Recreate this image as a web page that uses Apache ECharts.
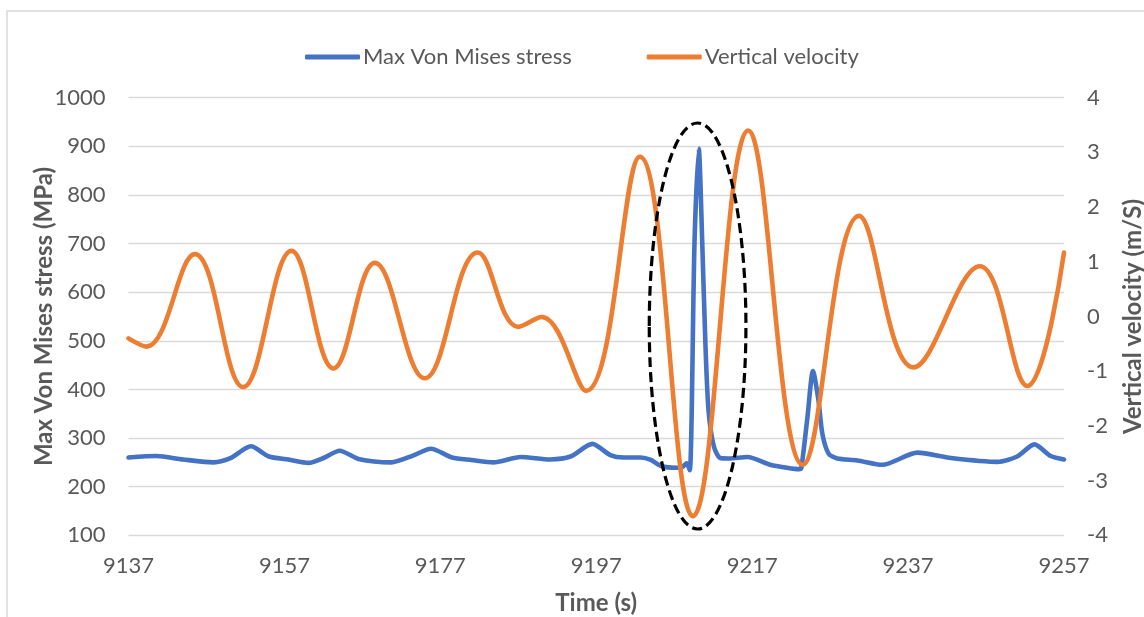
<!DOCTYPE html>
<html>
<head>
<meta charset="utf-8">
<script src="https://cdn.jsdelivr.net/npm/echarts@6/dist/echarts.min.js"></script>
<style>
  html, body { margin: 0; padding: 0; background: #ffffff; }
  #chart { width: 1144px; height: 617px; }
</style>
</head>
<body>
<div id="chart"></div>
<script>
// Time window (s)
const T_START = 9137;
const T_END = 9257;
const xTickLabels = [9137, 9157, 9177, 9197, 9217, 9237, 9257];

// Max Von Mises stress (MPa) against time (s)
const stressTime = [
  9137.0, 9140.6, 9144.0, 9147.9, 9150.0, 9152.7, 9155.0, 9157.5, 9160.1, 9162.0,
  9164.1, 9166.5, 9170.7, 9173.5, 9175.8, 9178.5, 9181.0, 9183.8, 9187.3, 9191.1,
  9193.7, 9196.5, 9198.8, 9200.5, 9202.7, 9204.0, 9205.4, 9207.3, 9208.0, 9208.6,
  9209.0, 9209.6, 9210.15, 9210.6, 9211.0, 9211.4, 9212.1, 9212.9, 9214.0, 9216.4,
  9219.3, 9221.1, 9223.0, 9223.3, 9224.1, 9224.8, 9225.5, 9226.0, 9226.8, 9227.9,
  9230.5, 9233.7, 9238.2, 9242.5, 9248.5, 9251.0, 9253.2, 9255.3, 9257.0
];
const stressMPa = [
  260, 263, 256, 250, 258, 283, 262, 256, 249, 259,
  274, 257, 250, 264, 278, 260, 255, 250, 261, 256,
  262, 288, 265, 260, 260, 255, 242, 239, 240, 248,
  234, 700, 895, 700, 495, 357, 282, 259, 258, 261,
  245, 240, 236, 238, 344, 438, 378, 309, 268, 258,
  254, 245, 270, 259, 251, 262, 287, 263, 256
];

// Vertical velocity (m/s): turning points of the heave signal
const velocityTime = [
  9137.0, 9139.3, 9145.5, 9151.7, 9157.9, 9163.3, 9168.6, 9175.0, 9181.8, 9187.0,
  9190.0, 9195.7, 9202.6, 9209.4, 9216.5, 9223.5, 9230.7, 9237.7, 9246.2, 9252.3,
  9257.0
];
const velocity = [
  -0.40, -0.55, 1.14, -1.29, 1.20, -0.95, 0.98, -1.13, 1.17, -0.19,
  -0.01, -1.36, 2.92, -3.65, 3.40, -2.71, 1.84, -0.93, 0.92, -1.27,
  1.17
];

// Dashed ellipse around the stress spike, in data units
const highlightTime = 9210.0;
const highlightHalfWidth = 6.2;      // s
const highlightStressTop = 948;      // MPa
const highlightStressBottom = 113;   // MPa

const FONT = 'Lato';
const TEXT_COLOR = '#595959';
const BLUE = '#4472C4';
const ORANGE = '#ED7D31';

const pairs = (ts, vs) => ts.map((t, i) => [t - T_START, vs[i]]);

const chart = echarts.init(document.getElementById('chart'), null, { renderer: 'canvas' });

chart.setOption({
  animation: false,
  backgroundColor: '#ffffff',
  textStyle: { fontFamily: FONT },
  grid: {
    left: 128.5, right: 80, top: 97.7, bottom: 81.7,
    containLabel: false, outerBoundsMode: 'none'
  },
  legend: {
    top: 41,
    left: 300,
    itemWidth: 55,
    itemHeight: 5,
    itemGap: 75,
    icon: 'roundRect',
    textStyle: { fontFamily: FONT, fontSize: 22, color: TEXT_COLOR, padding: [0, 0, 0, -2] },
    data: ['Max Von Mises stress', 'Vertical velocity']
  },
  xAxis: {
    type: 'value',
    min: 0,
    max: T_END - T_START,
    interval: 20,
    name: 'Time (s)',
    nameLocation: 'middle',
    nameGap: 56,
    nameTextStyle: { fontFamily: FONT, fontSize: 24, fontWeight: 'bold', color: TEXT_COLOR },
    axisLine: { show: false },
    axisTick: { show: false },
    splitLine: { show: false },
    axisLabel: {
      fontFamily: FONT, fontSize: 22, color: TEXT_COLOR, margin: 20,
      formatter: v => String(xTickLabels[Math.round(v / 20)] ?? '')
    }
  },
  yAxis: [
    {
      type: 'value',
      min: 100,
      max: 1000,
      interval: 100,
      name: 'Max Von Mises stress (MPa)',
      nameLocation: 'middle',
      nameGap: 72,
      nameMoveOverlap: false,
      nameTextStyle: { fontFamily: FONT, fontSize: 24, fontWeight: 'bold', color: TEXT_COLOR },
      axisLine: { show: false },
      axisTick: { show: false },
      splitLine: { show: true, lineStyle: { color: '#d9d9d9', width: 1.3 } },
      axisLabel: { fontFamily: FONT, fontSize: 22, color: TEXT_COLOR, margin: 23, formatter: v => String(v) }
    },
    {
      type: 'value',
      min: -4,
      max: 4,
      interval: 1,
      name: 'Vertical velocity (m/S)',
      nameLocation: 'middle',
      nameRotate: 90,
      nameGap: 57,
      nameTextStyle: { fontFamily: FONT, fontSize: 24, fontWeight: 'bold', color: TEXT_COLOR },
      axisLine: { show: false },
      axisTick: { show: false },
      splitLine: { show: false },
      axisLabel: { fontFamily: FONT, fontSize: 22, color: TEXT_COLOR, margin: 23, formatter: v => String(v) }
    }
  ],
  series: [
    {
      name: 'Max Von Mises stress',
      type: 'line',
      yAxisIndex: 0,
      data: pairs(stressTime, stressMPa),
      smooth: 0.25,
      showSymbol: false,
      symbol: 'none',
      color: BLUE,
      lineStyle: { color: BLUE, width: 4.6, cap: 'round', join: 'round' },
      z: 3
    },
    {
      name: 'Vertical velocity',
      type: 'line',
      yAxisIndex: 1,
      data: pairs(velocityTime, velocity),
      smooth: 0.4,
      showSymbol: false,
      symbol: 'none',
      color: ORANGE,
      lineStyle: { color: ORANGE, width: 4.6, cap: 'round', join: 'round' },
      z: 4
    }
  ],
  graphic: [
    {
      id: 'frame',
      type: 'rect',
      silent: true,
      shape: { x: 7, y: 11, width: 1300, height: 800 },
      style: { fill: 'none', stroke: '#d9d9d9', lineWidth: 1.5 },
      z: -1
    }
  ]
});

// Place the dashed ellipse through the axes' own scales
const c = chart.convertToPixel({ xAxisIndex: 0, yAxisIndex: 0 }, [highlightTime - T_START, highlightStressTop]);
const b = chart.convertToPixel({ xAxisIndex: 0, yAxisIndex: 0 }, [highlightTime - T_START, highlightStressBottom]);
const r = chart.convertToPixel({ xAxisIndex: 0, yAxisIndex: 0 }, [highlightTime + highlightHalfWidth - T_START, highlightStressTop]);
chart.setOption({
  graphic: [
    {
      id: 'highlight',
      type: 'ellipse',
      silent: true,
      shape: { cx: c[0], cy: (c[1] + b[1]) / 2, rx: r[0] - c[0], ry: (b[1] - c[1]) / 2 },
      style: { fill: 'none', stroke: '#000000', lineWidth: 3.2, lineDash: [10, 5] },
      z: 10
    }
  ]
});
</script>
</body>
</html>
